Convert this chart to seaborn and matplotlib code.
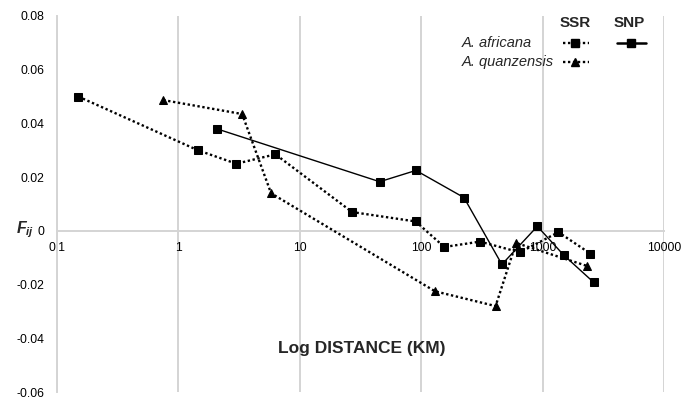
import numpy as np
import pandas as pd
import matplotlib
matplotlib.use("Agg")
import matplotlib.pyplot as plt
import seaborn as sns
from matplotlib.lines import Line2D

# Dados (distância em km, Fij)
ssr_af_x = [0.15, 1.45, 3.0, 6.3, 27, 90, 155, 305, 650, 1350, 2480]
ssr_af_y = [0.050, 0.030, 0.025, 0.0285, 0.007, 0.0035, -0.006, -0.004, -0.008, -0.0005, -0.0085]

ssr_qu_x = [0.75, 3.35, 5.8, 130, 410, 605, 2300]
ssr_qu_y = [0.0487, 0.0435, 0.014, -0.0225, -0.028, -0.0045, -0.013]

snp_af_x = [2.07, 45.5, 90.5, 225, 462, 905, 1490, 2640]
snp_af_y = [0.038, 0.0183, 0.0225, 0.0124, -0.0125, 0.0017, -0.009, -0.0192]

x_ticks = [0.1, 1, 10, 100, 1000, 10000]
x_tick_labels = ["0,1", "1", "10", "100", "1000", "10000"]
y_ticks = [0.08, 0.06, 0.04, 0.02, 0, -0.02, -0.04, -0.06]
y_tick_labels = ["0.08", "0.06", "0.04", "0.02", "0", "-0.02", "-0.04", "-0.06"]

species = ["A. africana", "A. quanzensis"]

sns.set_style("white")
plt.rcParams['font.family'] = ['Liberation Sans', 'DejaVu Sans']
plt.rcParams['mathtext.fontset'] = 'custom'
plt.rcParams['mathtext.it'] = 'Liberation Sans:italic:bold'
plt.rcParams['mathtext.rm'] = 'Liberation Sans:bold'

fig = plt.figure(figsize=(6.95, 4.01), dpi=100)
ax = fig.add_axes([0.082, 0.0224, 0.8734, 0.9377])

dotted = (0, (1, 1.1))
grid_col = "#d4d4d4"

df_ssr_af = pd.DataFrame({"dist": ssr_af_x, "fij": ssr_af_y})
df_ssr_qu = pd.DataFrame({"dist": ssr_qu_x, "fij": ssr_qu_y})
df_snp_af = pd.DataFrame({"dist": snp_af_x, "fij": snp_af_y})

sns.lineplot(data=df_ssr_af, x="dist", y="fij", sort=False, ax=ax, color="black",
             linestyle=dotted, linewidth=1.7, marker="s", markersize=6,
             markeredgecolor="black", markerfacecolor="black", zorder=3)
sns.lineplot(data=df_ssr_qu, x="dist", y="fij", sort=False, ax=ax, color="black",
             linestyle=dotted, linewidth=1.7, marker="^", markersize=6,
             markeredgecolor="black", markerfacecolor="black", zorder=3)
sns.lineplot(data=df_snp_af, x="dist", y="fij", sort=False, ax=ax, color="black",
             linestyle="-", linewidth=1.0, marker="s", markersize=6,
             markeredgecolor="black", markerfacecolor="black", zorder=3)

ax.set_xscale("log")
ax.set_xlim(0.1, 10000)
ax.set_ylim(-0.06, 0.08)
ax.set_xticks(x_ticks)
ax.set_xticklabels(x_tick_labels)
ax.xaxis.set_minor_locator(matplotlib.ticker.NullLocator())
ax.set_yticks(y_ticks)
ax.set_yticklabels(y_tick_labels)
ax.tick_params(axis="x", length=0, pad=8, labelsize=8.7, colors="black")
ax.tick_params(axis="y", length=0, pad=9, labelsize=8.7, colors="black")

# eixos e grade
ax.grid(axis="x", color=grid_col, linewidth=1.4)
ax.grid(axis="y", visible=False)
for s in ["top", "right"]:
    ax.spines[s].set_visible(False)
ax.spines["left"].set_color(grid_col)
ax.spines["left"].set_linewidth(1.4)
ax.spines["bottom"].set_position(("data", 0))
ax.spines["bottom"].set_color(grid_col)
ax.spines["bottom"].set_linewidth(1.4)

ax.set_xlabel("Log DISTANCE (KM)", fontsize=12.5, fontweight="bold", ha="center", va="center")
ax.xaxis.set_label_coords(0.5016, 0.117)
ax.set_ylabel(r"$F_{ij}$", fontsize=11.5, rotation=0, ha="center", va="center")
ax.yaxis.set_label_coords(-0.053, 0.432)

# legenda
ax.text(0.8545, 0.982, "SSR", transform=ax.transAxes, ha="center", va="center",
        fontsize=11, fontweight="bold")
ax.text(0.9423, 0.982, "SNP", transform=ax.transAxes, ha="center", va="center",
        fontsize=11, fontweight="bold")
ax.text(0.6667, 0.9274, species[0], transform=ax.transAxes, ha="left", va="center",
        fontsize=10.5, fontstyle="italic")
ax.text(0.6667, 0.878, species[1], transform=ax.transAxes, ha="left", va="center",
        fontsize=10.5, fontstyle="italic")
ax.add_line(Line2D([0.8331, 0.8769], [0.9274, 0.9274], transform=ax.transAxes,
                   color="black", linestyle=dotted, linewidth=1.7))
ax.add_line(Line2D([0.8535], [0.9274], transform=ax.transAxes, color="black",
                   marker="s", markersize=5.5, linestyle="none"))
ax.add_line(Line2D([0.8331, 0.8769], [0.878, 0.878], transform=ax.transAxes,
                   color="black", linestyle=dotted, linewidth=1.7))
ax.add_line(Line2D([0.8535], [0.878], transform=ax.transAxes, color="black",
                   marker="^", markersize=5.5, linestyle="none"))
ax.add_line(Line2D([0.9221, 0.9704], [0.9274, 0.9274], transform=ax.transAxes,
                   color="black", linestyle="-", linewidth=1.8, marker=None))
ax.add_line(Line2D([0.9456], [0.9274], transform=ax.transAxes, color="black",
                   marker="s", markersize=5.5, linestyle="none"))

fig.savefig("out.png", dpi=100)
